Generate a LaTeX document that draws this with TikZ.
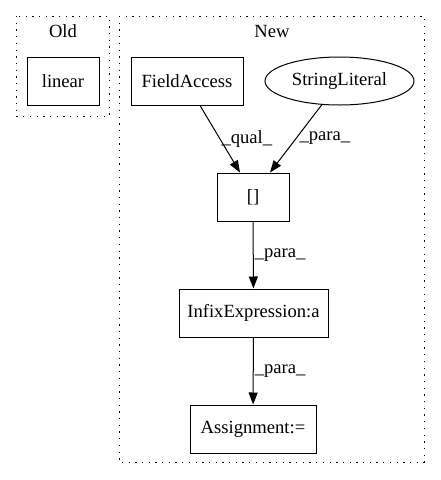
\documentclass[tikz,border=0pt]{standalone}
\usepackage{fontspec}
\setmainfont{Liberation Serif}
\usetikzlibrary{arrows.meta,shapes.geometric}
\begin{document}
\begin{tikzpicture}[x=1pt,y=-1pt,
  cluster/.style={draw,line width=1pt,dash pattern=on 1.3pt off 5.4pt},
  box/.style={draw,line width=1pt,rectangle,inner sep=0pt,font=\fontsize{18.6}{21}\selectfont},
  oval/.style={draw,line width=1pt,ellipse,inner sep=0pt,font=\fontsize{18.6}{21}\selectfont},
  lbl/.style={font=\fontsize{18.6}{21}\selectfont,inner sep=1pt},
  edge/.style={draw,line width=1pt,-{Triangle[length=12pt,width=9pt]}}]
\useasboundingbox (0,0) rectangle (441,480);
\draw[cluster] (16,16) rectangle (109,116);
\draw[cluster] (119,16) rectangle (424,462);
\node[lbl] (oldlbl) at (63,31) {Old};
\node[lbl] (newlbl) at (272,31) {New};
\node[box,minimum width=72pt,minimum height=48pt] (linear) at (63,81) {linear};
\node[box,minimum width=112pt,minimum height=48pt] (fa) at (187,81) {FieldAccess};
\node[oval,minimum width=149pt,minimum height=48pt] (sl) at (339.5,81) {StringLiteral};
\node[box,minimum width=72pt,minimum height=48pt] (br) at (253,197) {[]};
\node[box,minimum width=149pt,minimum height=48pt] (ie) at (253.5,313) {InfixExpression:a};
\node[box,minimum width=126pt,minimum height=48pt] (as) at (253,429) {Assignment:=};
\draw[edge] (fa.south -| 200,0) -- (br.north -| 240,0) node[lbl,pos=0.5,right=0pt] (q) {\_qual\_};
\draw[edge] (322,104.5) -- (br.north -| 270,0) node[lbl,pos=0.5,right=2pt] (p1) {\_para\_};
\draw[edge] (br) -- (ie) node[lbl,pos=0.5,right=0pt] (p2) {\_para\_};
\draw[edge] (ie) -- (as) node[lbl,pos=0.5,right=0pt] (p3) {\_para\_};
\end{tikzpicture}
\end{document}
